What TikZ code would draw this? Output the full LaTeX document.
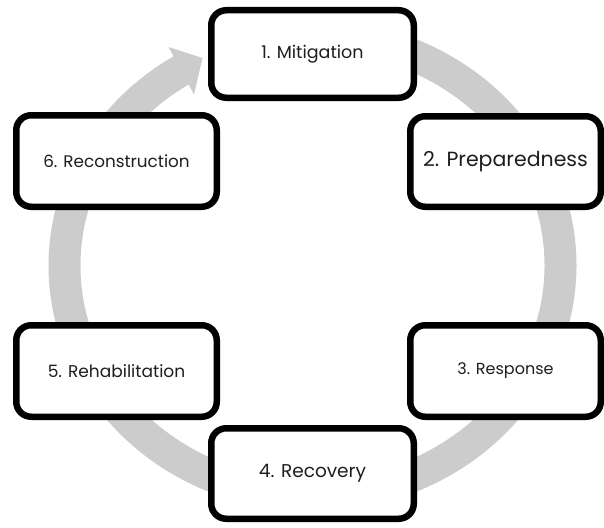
\documentclass[tikz,border=0pt]{standalone}
\usepackage{fontspec}
\newfontfamily\pop{Poppins}
\usetikzlibrary{shadows}
\definecolor{ringgray}{RGB}{204,204,204}
\definecolor{txt}{RGB}{30,30,30}
\begin{document}
\begin{tikzpicture}[x=1pt,y=1pt,
  stagebox/.style={draw=black, line width=6.5pt, rounded corners=15pt, fill=white,
    text=txt, font=\pop, align=center, inner sep=0pt,
    drop shadow={opacity=0.22, shadow xshift=1.5pt, shadow yshift=-1.5pt}},
  ring/.style={draw=ringgray, line width=32pt}]
\useasboundingbox (0,0) rectangle (604,-527);
% gray cycle
\draw[ring] ([shift={(312.5,-265.5)}]85:248 and 230) arc[start angle=85, end angle=-239, x radius=248, y radius=230];
\fill[ringgray] (202.5,-58) -- (194,-94.5) -- (168.5,-47) -- cycle;
% stages
\node[stagebox, minimum width=202.5pt, minimum height=87.5pt, font=\pop\fontsize{17.5}{20}\selectfont] (s1) at (312.5,-54) {1. Mitigation};
\node[stagebox, minimum width=190.5pt, minimum height=90.5pt, font=\pop\fontsize{20.5}{24}\selectfont] (s2) at (505.5,-161.5) {2. Preparedness};
\node[stagebox, minimum width=190.5pt, minimum height=91.5pt, font=\pop\fontsize{16}{19}\selectfont] (s3) at (505.5,-371) {3. Response};
\node[stagebox, minimum width=202.5pt, minimum height=90.5pt, font=\pop\fontsize{18.5}{22}\selectfont] (s4) at (312.5,-473.5) {4. Recovery};
\node[stagebox, minimum width=200.5pt, minimum height=91.5pt, font=\pop\fontsize{17}{20}\selectfont] (s5) at (116.5,-371) {5. Rehabilitation};
\node[stagebox, minimum width=200.5pt, minimum height=91.5pt, font=\pop\fontsize{16.8}{20}\selectfont] (s6) at (116.5,-161) {6. Reconstruction};
\end{tikzpicture}
\end{document}
